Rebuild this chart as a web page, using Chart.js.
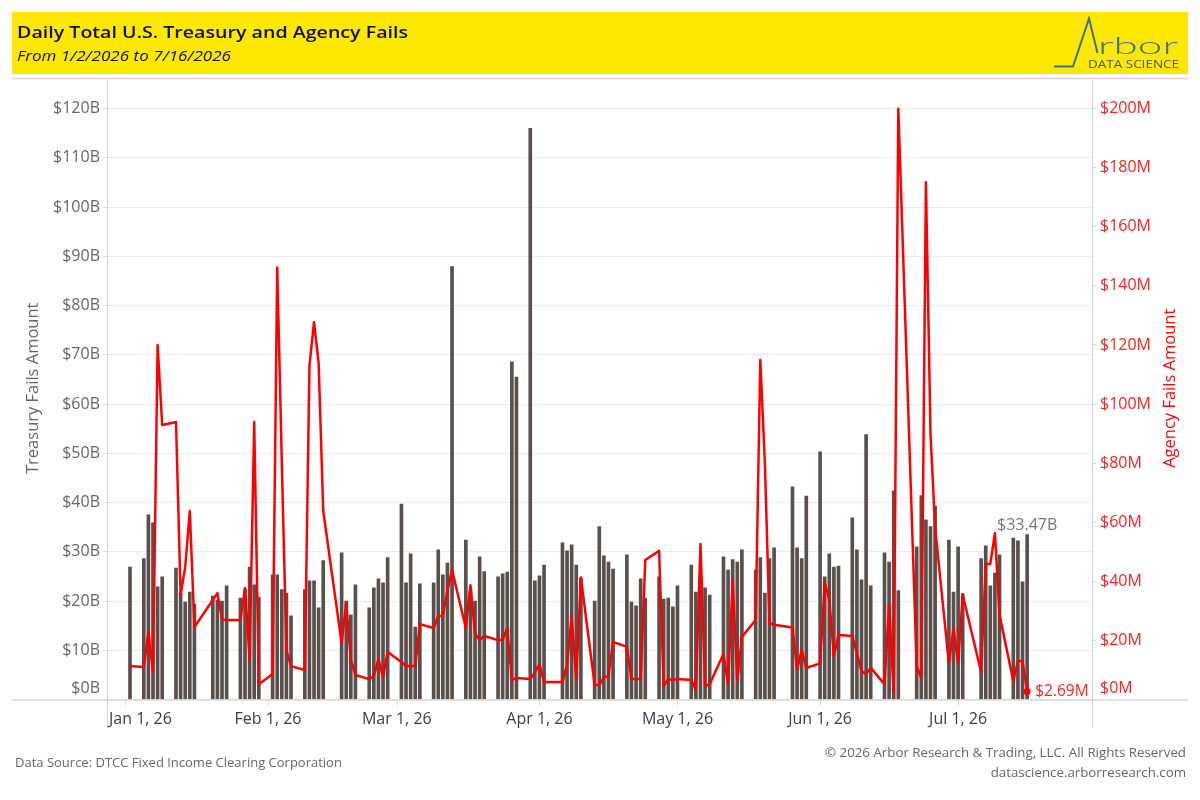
<!DOCTYPE html>
<html><head><meta charset="utf-8">
<script src="https://cdn.jsdelivr.net/npm/chart.js@4.4.1/dist/chart.umd.min.js"></script>
<style>
html,body{margin:0;padding:0;background:#fff;}
#wrap{position:relative;width:1200px;height:800px;}
canvas{position:absolute;left:0;top:0;}
</style></head><body>
<div id="wrap"><canvas id="c" width="1200" height="800"></canvas></div>
<script>
// ---- DATA ----
const dates = [
 '2026-01-02','2026-01-05','2026-01-06','2026-01-07','2026-01-08','2026-01-09',
 '2026-01-12','2026-01-13','2026-01-14','2026-01-15','2026-01-16',
 '2026-01-20','2026-01-21','2026-01-22','2026-01-23',
 '2026-01-26','2026-01-27','2026-01-28','2026-01-29','2026-01-30',
 '2026-02-02','2026-02-03','2026-02-04','2026-02-05','2026-02-06',
 '2026-02-09','2026-02-10','2026-02-11','2026-02-12','2026-02-13',
 '2026-02-17','2026-02-18','2026-02-19','2026-02-20',
 '2026-02-23','2026-02-24','2026-02-25','2026-02-26','2026-02-27',
 '2026-03-02','2026-03-03','2026-03-04','2026-03-05','2026-03-06',
 '2026-03-09','2026-03-10','2026-03-11','2026-03-12','2026-03-13',
 '2026-03-16','2026-03-17','2026-03-18','2026-03-19','2026-03-20',
 '2026-03-23','2026-03-24','2026-03-25','2026-03-26','2026-03-27',
 '2026-03-30','2026-03-31','2026-04-01','2026-04-02',
 '2026-04-06','2026-04-07','2026-04-08','2026-04-09','2026-04-10',
 '2026-04-13','2026-04-14','2026-04-15','2026-04-16','2026-04-17',
 '2026-04-20','2026-04-21','2026-04-22','2026-04-23','2026-04-24',
 '2026-04-27','2026-04-28','2026-04-29','2026-04-30','2026-05-01',
 '2026-05-04','2026-05-05','2026-05-06','2026-05-07','2026-05-08',
 '2026-05-11','2026-05-12','2026-05-13','2026-05-14','2026-05-15',
 '2026-05-18','2026-05-19','2026-05-20','2026-05-21','2026-05-22',
 '2026-05-26','2026-05-27','2026-05-28','2026-05-29',
 '2026-06-01','2026-06-02','2026-06-03','2026-06-04','2026-06-05',
 '2026-06-08','2026-06-09','2026-06-10','2026-06-11','2026-06-12',
 '2026-06-15','2026-06-16','2026-06-17','2026-06-18',
 '2026-06-22','2026-06-23','2026-06-24','2026-06-25','2026-06-26',
 '2026-06-29','2026-06-30','2026-07-01','2026-07-02',
 '2026-07-06','2026-07-07','2026-07-08','2026-07-09','2026-07-10',
 '2026-07-13','2026-07-14','2026-07-15','2026-07-16'
];
// Treasury fails, $ billions
const treasuryFails = [
 26.9,28.6,37.5,35.9,22.9,24.9,
 26.7,21.6,19.8,21.8,19.4,
 21.0,20.2,20.0,23.1,
 20.6,22.4,26.9,23.3,20.8,
 25.3,25.3,22.3,21.6,17.0,
 22.3,24.1,24.1,18.6,28.2,
 29.8,20.0,17.2,23.3,
 18.6,22.7,24.5,23.7,28.8,
 39.7,23.7,29.6,14.7,23.5,
 23.7,30.4,25.3,27.7,87.9,
 32.4,22.0,20.0,29.0,26.0,
 24.9,25.5,25.9,68.6,65.5,
 116.0,24.1,25.1,27.3,
 31.8,30.2,31.4,27.3,24.6,
 20.0,35.1,29.2,27.9,26.5,
 29.4,19.8,19.0,24.5,20.6,
 24.9,20.4,20.6,18.8,23.1,
 27.3,21.8,25.0,22.7,21.2,
 29.0,26.3,28.4,27.9,30.4,
 26.3,28.8,21.6,28.6,30.8,
 43.2,30.8,28.6,41.3,
 50.3,24.9,29.6,26.9,27.1,
 36.9,30.4,24.3,53.8,23.1,
 29.8,27.9,42.4,22.1,
 31.0,41.4,36.5,35.1,39.3,
 32.4,21.8,31.0,21.5,
 28.6,31.2,23.1,25.7,29.4,
 32.8,32.2,23.9,33.47
];
// Agency fails, $ millions
const agencyFails = [
 11.3,11.0,22.8,9.3,120.0,92.9,
 93.9,35.4,44.8,63.8,24.5,
 33.7,36.0,27.2,26.9,
 26.9,37.7,13.7,93.9,5.2,
 8.6,146.2,80.0,16.7,11.3,
 10.0,112.9,127.7,113.9,63.8,
 19.1,32.7,13.4,8.3,
 6.9,7.9,13.7,7.6,16.1,
 12.7,11.3,11.3,11.3,25.5,
 24.2,28.3,28.3,37.0,43.8,
 24.2,38.7,22.2,20.1,21.5,
 20.1,20.1,24.2,6.6,7.3,
 6.9,9.1,12.0,5.9,
 5.9,11.7,28.3,6.6,41.3,
 4.9,4.9,7.6,7.9,19.5,
 17.8,6.9,6.9,6.9,47.2,
 50.3,4.6,6.9,6.6,6.9,
 6.6,3.2,52.6,4.6,5.2,
 15.4,5.2,40.4,6.3,21.2,
 26.9,114.9,80.0,25.8,25.3,
 24.4,10.0,16.8,10.7,
 12.2,39.6,33.7,14.7,21.8,
 21.5,15.6,9.6,8.6,10.7,
 5.2,32.3,1.9,200.0,
 11.3,7.3,175.1,90.0,58.0,
 12.2,24.2,12.2,35.4,
 9.3,45.9,45.9,56.3,28.6,
 6.3,13.0,13.0,2.69
];
const monthTickDates = ['2026-01-01','2026-02-01','2026-03-01','2026-04-01','2026-05-01','2026-06-01','2026-07-01'];
const monthTickLabels = ['Jan 1, 26','Feb 1, 26','Mar 1, 26','Apr 1, 26','May 1, 26','Jun 1, 26','Jul 1, 26'];
const leftTicks = [0,10,20,30,40,50,60,70,80,90,100,110,120];
const rightTicks = [0,20,40,60,80,100,120,140,160,180,200];

// ---- helpers ----
const EPOCH = Date.UTC(2026,0,1);
function dayNum(s){const p=s.split('-').map(Number);return (Date.UTC(p[0],p[1]-1,p[2])-EPOCH)/86400000;}
const FONT='"Open Sans", "DejaVu Sans", sans-serif';
const lastIdx = dates.length-1;

function fitText(ctx,text,x,y,targetW){
  const w=ctx.measureText(text).width;
  ctx.save();ctx.translate(x,y);ctx.scale(targetW/w,1);ctx.fillText(text,0,0);ctx.restore();
}

const decor = {
  id:'decor',
  beforeDraw(chart){
    const ctx=chart.ctx;
    ctx.save();
    ctx.fillStyle='#fff';ctx.fillRect(0,0,1200,800);
    // header
    ctx.fillStyle='#ffe800';ctx.fillRect(12,12,1176,62);
    ctx.fillStyle='#111';
    ctx.textBaseline='middle';ctx.textAlign='left';
    ctx.font='600 16.5px '+FONT;
    fitText(ctx,'Daily Total U.S. Treasury and Agency Fails',17,33,391);
    ctx.font='italic 15px '+FONT;
    fitText(ctx,'From 1/2/2026 to 7/16/2026',17,57,214);
    // logo
    ctx.strokeStyle='#3f6f9f';ctx.lineWidth=2;ctx.lineJoin='miter';
    ctx.beginPath();ctx.moveTo(1054,66.5);ctx.lineTo(1073,66.5);ctx.lineTo(1089,18.5);ctx.lineTo(1097.5,53);ctx.stroke();
    ctx.fillStyle='#3f6f9f';
    ctx.font='300 23px Lato, "Open Sans", sans-serif';
    ctx.textBaseline='alphabetic';
    fitText(ctx,'rbor',1098,53.5,80);
    ctx.fillStyle='#4c5864';
    ctx.font='11px '+FONT;
    fitText(ctx,'DATA SCIENCE',1088,67.5,91);
    // separator
    ctx.strokeStyle='#d4d4d4';ctx.lineWidth=1.5;
    ctx.beginPath();ctx.moveTo(12,78.5);ctx.lineTo(1188,78.5);ctx.stroke();
    ctx.restore();
  },
  afterDraw(chart){
    const ctx=chart.ctx, a=chart.chartArea;
    const xs=chart.scales.x, yl=chart.scales.y, yr=chart.scales.y2;
    ctx.save();
    // frame lines
    ctx.strokeStyle='#d0d0d0';ctx.lineWidth=1;
    ctx.beginPath();
    ctx.moveTo(Math.round(a.left)+0.5,80);ctx.lineTo(Math.round(a.left)+0.5,728);
    ctx.moveTo(Math.round(a.right)+0.5,80);ctx.lineTo(Math.round(a.right)+0.5,728);
    ctx.stroke();
    ctx.strokeStyle='#c8c8c8';ctx.lineWidth=1.2;
    ctx.beginPath();ctx.moveTo(12,a.bottom+0.5);ctx.lineTo(1188,a.bottom+0.5);ctx.stroke();
    // month ticks and labels
    ctx.font='16px '+FONT;ctx.fillStyle='#34404d';ctx.textBaseline='middle';ctx.textAlign='left';
    ctx.strokeStyle='#dcdcdc';ctx.lineWidth=1;
    monthTickDates.forEach((d,i)=>{
      const x=xs.getPixelForValue(dayNum(d));
      ctx.beginPath();ctx.moveTo(Math.round(x)+0.5,a.bottom+1);ctx.lineTo(Math.round(x)+0.5,a.bottom+6);ctx.stroke();
      const tw=ctx.measureText(monthTickLabels[i]).width;
      let lx=x-tw/2; if(lx<a.left+2) lx=a.left+2;
      ctx.fillText(monthTickLabels[i],lx,719);
    });
    // zero labels (lifted above axis)
    ctx.fillStyle='#666';ctx.textAlign='right';
    ctx.fillText('$0B',yl.right-7,yl.getPixelForValue(0)-11);
    ctx.fillStyle='#ff2020';ctx.textAlign='left';
    ctx.fillText('$0M',yr.left+8,yr.getPixelForValue(0)-11);
    // axis titles
    ctx.font='16.5px '+FONT;ctx.textAlign='center';
    const cy=(a.top+a.bottom)/2-4;
    ctx.save();ctx.translate(33,cy);ctx.rotate(-Math.PI/2);ctx.fillStyle='#666';ctx.fillText('Treasury Fails Amount',0,0);ctx.restore();
    ctx.save();ctx.translate(1170,cy);ctx.rotate(-Math.PI/2);ctx.fillStyle='#ff0000';ctx.fillText('Agency Fails Amount',0,0);ctx.restore();
    // end labels
    const lx=xs.getPixelForValue(dayNum(dates[lastIdx]));
    ctx.font='16px '+FONT;
    ctx.fillStyle='#777';ctx.textAlign='center';ctx.textBaseline='alphabetic';
    ctx.fillText('$'+treasuryFails[lastIdx].toFixed(2)+'B',lx,yl.getPixelForValue(treasuryFails[lastIdx])-5);
    ctx.font='15.5px '+FONT;
    ctx.fillStyle='#ff2020';ctx.textAlign='left';ctx.textBaseline='middle';
    ctx.fillText('$'+agencyFails[lastIdx].toFixed(2)+'M',lx+8,yr.getPixelForValue(agencyFails[lastIdx]));
    // footer
    ctx.font='13px '+FONT;ctx.fillStyle='#666';
    ctx.textAlign='left';ctx.fillText('Data Source: DTCC Fixed Income Clearing Corporation',15,763);
    ctx.textAlign='right';
    ctx.font='13.3px '+FONT;
    ctx.fillText('\u00a9 2026 Arbor Research & Trading, LLC. All Rights Reserved',1186,753);
    ctx.fillText('datascience.arborresearch.com',1186,773);
    ctx.restore();
  }
};

const barData = dates.map((d,i)=>({x:dayNum(d),y:treasuryFails[i]}));
const lineData = dates.map((d,i)=>({x:dayNum(d),y:agencyFails[i]}));

new Chart(document.getElementById('c'),{
  type:'bar',
  data:{datasets:[
    {type:'line',label:'Agency Fails',data:lineData,yAxisID:'y2',borderColor:'#ff0000',backgroundColor:'#ff0000',
     borderWidth:2.5,tension:0,borderJoinStyle:'round',
     pointRadius:(c)=>c.dataIndex===lastIdx?3.5:0,pointHoverRadius:0,pointBorderWidth:0,pointBackgroundColor:'#ff0000',order:0},
    {type:'bar',label:'Treasury Fails',data:barData,yAxisID:'y',backgroundColor:'#59504c',barThickness:3,order:1}
  ]},
  options:{
    responsive:false,animation:false,devicePixelRatio:1,
    layout:{padding:{top:85,bottom:70.5,left:0,right:0}},
    plugins:{legend:{display:false},tooltip:{enabled:false}},
    scales:{
      x:{type:'linear',min:-4.0,max:210.1,offset:false,grid:{display:false},border:{display:false},ticks:{display:false},
         afterFit(s){s.height=30;}},
      y:{position:'left',min:0,max:124.8,
         afterBuildTicks(s){s.ticks=leftTicks.map(v=>({value:v}));},
         ticks:{callback:(v)=>v===0?'':'$'+v+'B',color:'#666',font:{family:FONT,size:16},padding:3},
         grid:{color:'#ececec',tickLength:4,tickColor:'#dcdcdc'},border:{display:false},
         afterFit(s){s.width=107;}},
      y2:{position:'right',min:0,max:208,
         afterBuildTicks(s){s.ticks=rightTicks.map(v=>({value:v}));},
         ticks:{callback:(v)=>v===0?'':'$'+v+'M',color:'#ff2020',font:{family:FONT,size:16},padding:4},
         grid:{drawOnChartArea:false,tickLength:4,tickColor:'#dcdcdc'},border:{display:false},
         afterFit(s){s.width=108;}}
    }
  },
  plugins:[decor]
});
</script>
</body></html>
